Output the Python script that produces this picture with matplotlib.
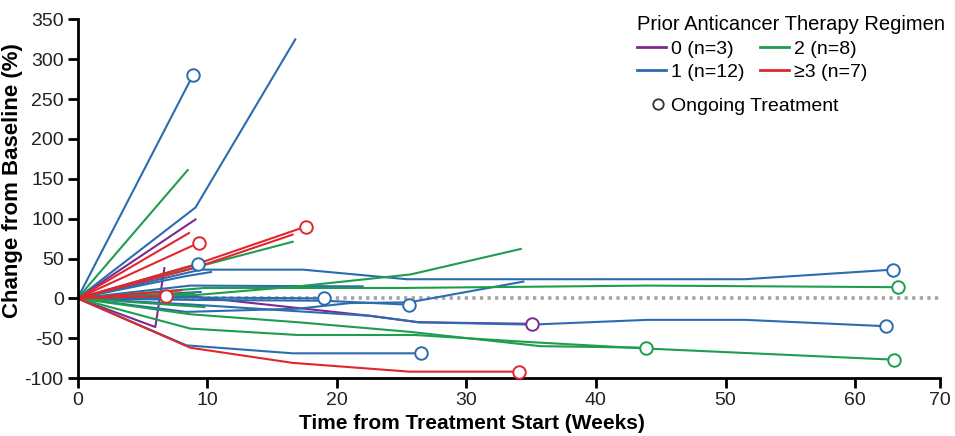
import matplotlib
matplotlib.use('Agg')
import matplotlib.pyplot as plt
from matplotlib.lines import Line2D

# Spider plot data: weeks on treatment and % change from baseline, one list per patient
purple_weeks = [[0, 9.1], [0, 6.0, 6.7], [0, 9, 22.6, 26.3, 35.1]]
purple_pct = [[0, 99], [0, -36, 38], [0, 2, -22, -30, -32]]
purple_ongoing = [False, False, True]

blue_weeks = [[0, 8.9], [0, 9.1, 16.8], [0, 9.3], [0, 9.5, 17.4, 25.4, 51.5, 62.9],
              [0, 9, 19.0], [0, 9, 19, 25.6], [0, 8.4, 17, 21, 25.6, 34.4],
              [0, 9, 22.6, 26.3, 35, 44, 51.5, 62.4], [0, 8.4, 16.6, 26.5],
              [0, 8.7, 22], [0, 8.4, 10.3], [0, 9.5]]
blue_pct = [[0, 280], [0, 114, 325], [0, 43], [0, 36, 36, 24, 24, 36],
            [0, 1, 0], [0, -2, -3, -8], [0, -17, -13, -6, -5, 21],
            [0, -8, -22, -30, -33, -27, -27, -35], [0, -59, -69, -69],
            [0, 16, 15], [0, 28, 33], [0, 8]]
blue_ongoing = [True, False, True, True, True, True, False, True, True, False, False, False]

green_weeks = [[0, 8.5], [0, 16.6], [0, 9, 17, 25.7, 34.2], [0, 9.8, 25, 44, 63.3],
               [0, 8.7, 17, 25.6, 35.7, 43.9], [0, 8.7, 17, 26, 35, 43.9, 63],
               [0, 9.8], [0, 9.0]]
green_pct = [[0, 161], [0, 71], [0, 4, 15, 30, 62], [0, 13, 13, 16, 14],
             [0, -20, -30, -42, -60, -62], [0, -38, -46, -46, -55, -63, -77],
             [0, -11], [0, 6]]
green_ongoing = [False, False, False, True, True, True, False, False]

red_weeks = [[0, 8.6], [0, 9.4], [0, 9, 17.6], [0, 9, 16.6], [0, 6.8],
             [0, 8.7, 16.6, 25.6, 34.1], [0, 8.0]]
red_pct = [[0, 82], [0, 70], [0, 42, 90], [0, 38, 80], [0, 3],
           [0, -62, -81, -92, -92], [0, 10]]
red_ongoing = [False, True, True, False, True, True, False]

group_labels = ['0 (n=3)', '1 (n=12)', '2 (n=8)', '\u22653 (n=7)']
x_ticks = [0, 10, 20, 30, 40, 50, 60]
y_ticks = [-100, -50, 0, 50, 100, 150, 200, 250, 300, 350]

PURPLE = '#7d2a8f'
BLUE = '#2b6cb0'
GREEN = '#1f9d4f'
RED = '#df272d'

plt.rcParams['font.family'] = ['Liberation Sans', 'DejaVu Sans']

fig = plt.figure(figsize=(9.55, 4.36), dpi=100)
ax = fig.add_axes([0.0812, 0.133, 0.9031, 0.8223])

x_end = 66.55  # right end of the drawn axis, labelled 70

# dotted baseline at 0 %
ax.plot([0, x_end], [0, 0], color='#a3a3a3', linewidth=2.6,
        linestyle=(0, (0.9, 1.2)), zorder=1, clip_on=False)

groups = [(purple_weeks, purple_pct, purple_ongoing, PURPLE),
          (blue_weeks, blue_pct, blue_ongoing, BLUE),
          (green_weeks, green_pct, green_ongoing, GREEN),
          (red_weeks, red_pct, red_ongoing, RED)]

for weeks, pct, ongoing, color in groups:
    for w, p, on in zip(weeks, pct, ongoing):
        ax.plot(w, p, color=color, linewidth=1.5, zorder=2, solid_joinstyle='round')
        if on:
            ax.plot(w[-1], p[-1], marker='o', markersize=9, markerfacecolor='white',
                    markeredgecolor=color, markeredgewidth=1.4, zorder=3, clip_on=False)

ax.set_xlim(0, x_end)
ax.set_ylim(-100, 350)
ax.set_xticks(x_ticks + [x_end])
ax.set_xticklabels([str(t) for t in x_ticks] + ['70'])
ax.set_yticks(y_ticks)
ax.set_yticklabels([str(t) for t in y_ticks])

for side in ['top', 'right']:
    ax.spines[side].set_visible(False)
for side in ['left', 'bottom']:
    ax.spines[side].set_linewidth(2)
ax.tick_params(direction='out', length=7, width=2, colors='black', pad=3)
for lbl in ax.get_xticklabels() + ax.get_yticklabels():
    lbl.set_fontsize(14)
    lbl.set_color('#222222')

ax.set_xlabel('Time from Treatment Start (Weeks)', fontsize=15,
              fontweight='bold', labelpad=4, x=0.457)
ax.set_ylabel('Change from Baseline (%)', fontsize=16, fontweight='bold')
ax.yaxis.set_label_coords(-0.063, 0.55)

# legend: regimen colours in two columns, then the ongoing marker
handles = [Line2D([0], [0], color=c, linewidth=2) for c in [PURPLE, BLUE, GREEN, RED]]
leg = ax.legend(handles, group_labels, ncol=2, title='Prior Anticancer Therapy Regimen',
                loc='upper right', bbox_to_anchor=(1.022, 1.05), frameon=False,
                fontsize=14, title_fontsize=14.5, handlelength=1.45, handletextpad=0.3,
                columnspacing=0.8, labelspacing=0.3, borderpad=0.2)
leg._legend_box.align = 'left'
ax.add_artist(leg)

ongoing_handle = Line2D([0], [0], linestyle='none', marker='o', markersize=7.5,
                        markerfacecolor='white', markeredgecolor='#333333', markeredgewidth=1.3)
ax.legend([ongoing_handle], ['Ongoing Treatment'], loc='upper left',
          bbox_to_anchor=(0.65, 0.82), frameon=False, fontsize=14,
          handlelength=0.6, handletextpad=0.4, borderpad=0.2)

fig.savefig('out.png', dpi=100)
